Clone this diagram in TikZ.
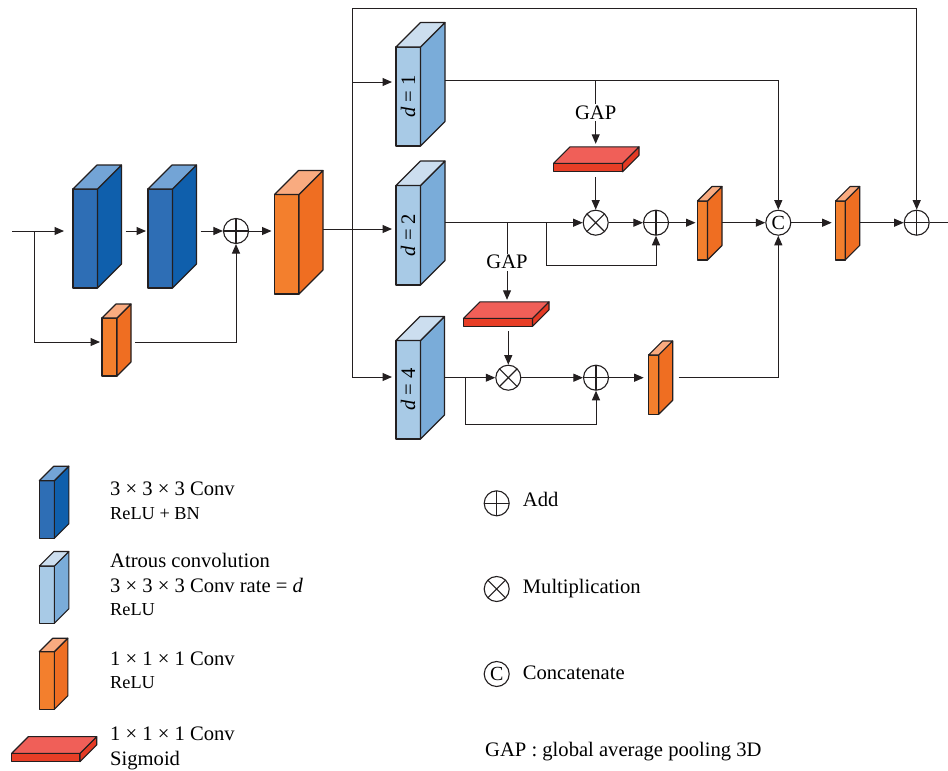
\documentclass[tikz,border=0pt]{standalone}
\usepackage{fontspec}
\setmainfont{Liberation Serif}
\usetikzlibrary{arrows.meta,calc}
\definecolor{linecol}{RGB}{35,31,32}
\definecolor{bluefront}{RGB}{46,110,181}
\definecolor{blueside}{RGB}{15,95,172}
\definecolor{bluetop}{RGB}{115,164,214}
\definecolor{lbfront}{RGB}{168,202,230}
\definecolor{lbside}{RGB}{122,172,217}
\definecolor{lbtop}{RGB}{204,222,239}
\definecolor{orfront}{RGB}{243,127,45}
\definecolor{orside}{RGB}{239,110,34}
\definecolor{ortop}{RGB}{249,171,128}
\definecolor{redfront}{RGB}{232,62,38}
\definecolor{redside}{RGB}{228,58,36}
\definecolor{redtop}{RGB}{240,95,88}
\newcommand{\mainsz}{\fontsize{20.6}{24}\selectfont}
\newcommand{\smallsz}{\fontsize{18.3}{21}\selectfont}
\tikzset{
  ln/.style={line width=1pt, draw=linecol},
  arr/.style={ln, -{Triangle[length=9.5pt,width=8pt]}},
  blockline/.style={draw=linecol, line width=1.1pt, line join=round},
  op/.style={circle, draw=linecol, line width=1.1pt, minimum size=25pt, inner sep=0pt, fill=white},
  oplus/.style={op, path picture={\draw[line width=1.1pt, linecol] (path picture bounding box.north) -- (path picture bounding box.south) (path picture bounding box.west) -- (path picture bounding box.east);}},
  otimes/.style={op, path picture={\draw[line width=1.1pt, linecol] (path picture bounding box.north west) -- (path picture bounding box.south east) (path picture bounding box.north east) -- (path picture bounding box.south west);}},
  ocat/.style={op, font=\fontsize{20}{20}\selectfont},
  gaplbl/.style={fill=white, inner sep=1.5pt, font=\mainsz},
  legtxt/.style={anchor=base west, inner sep=0pt, font=\mainsz},
  legsmall/.style={anchor=base west, inner sep=0pt, font=\smallsz},
  dlbl/.style={rotate=90, inner sep=0pt, font=\mainsz}
}
% name, x, y (front top-left), w, h, depth, front, side, top
\newcommand{\blk}[9]{%
  \node[inner sep=0pt, outer sep=0pt, minimum width={(#4+#6)*1pt}, minimum height={(#5+#6)*1pt}, anchor=north west] (#1) at (#2,#3-#6) {};
  \filldraw[blockline, fill=#7] (#2,#3) rectangle ++(#4,#5);
  \filldraw[blockline, fill=#8] (#2+#4,#3) -- ++(#6,-#6) -- ++(0,#5) -- ++(-#6,#6) -- cycle;
  \filldraw[blockline, fill=#9] (#2,#3) -- ++(#6,-#6) -- ++(#4,0) -- ++(-#6,#6) -- cycle;
}
\begin{document}
\begin{tikzpicture}[x=1pt,y=-1pt]
\useasboundingbox (0,0) rectangle (948,771);
\fill[white] (0,0) rectangle (948,771);

% ---------- blocks ----------
\blk{b1}{73}{189}{24.5}{99}{24}{bluefront}{blueside}{bluetop}
\blk{b2}{148}{189}{24.5}{99}{24}{bluefront}{blueside}{bluetop}
\blk{o1}{274.5}{194.5}{24.5}{99.5}{24}{orfront}{orside}{ortop}
\blk{os}{102}{318}{15}{58}{14}{orfront}{orside}{ortop}
\blk{d1}{396}{47}{24.5}{99}{24.5}{lbfront}{lbside}{lbtop}
\blk{d2}{396}{185.5}{24.5}{99.5}{24.5}{lbfront}{lbside}{lbtop}
\blk{d4}{396}{340.5}{24.5}{98.5}{24}{lbfront}{lbside}{lbtop}
\blk{r1}{553.5}{163.3}{69}{8.5}{16.5}{redfront}{redside}{redtop}
\blk{r2}{463.5}{318.3}{69}{8}{16.5}{redfront}{redside}{redtop}
\blk{o2}{697.5}{201}{10}{59}{14.5}{orfront}{orside}{ortop}
\blk{o3}{648.7}{355}{10}{59.3}{14}{orfront}{orside}{ortop}
\blk{o4}{835.7}{201}{9.5}{59}{14.5}{orfront}{orside}{ortop}

\node[dlbl] (t1) at (408.2,96.5) {\textit{d} = 1};
\node[dlbl] (t2) at (408.2,235.2) {\textit{d} = 2};
\node[dlbl] (t4) at (408.2,389.7) {\textit{d} = 4};

% ---------- operators ----------
\node[oplus] (add1) at (236,231) {};
\node[otimes] (mul1) at (595.7,222.7) {};
\node[oplus] (add2) at (656,222.7) {};
\node[otimes] (mul2) at (508.3,377.7) {};
\node[oplus] (add3) at (596,377.7) {};
\node[ocat] (cat) at (778.3,222.7) {C};
\node[oplus] (add4) at (916.7,222.7) {};

% ---------- junction coordinates ----------
\coordinate (in) at (12,231);
\coordinate (br0) at (34,231);
\coordinate (br1) at (34,342);
\coordinate (jm) at (352,229);
\coordinate (j1) at (352,82);
\coordinate (j4) at (352,377);
\coordinate (vtop) at (352,8);
\coordinate (g1) at (595.7,80.7);
\coordinate (g2) at (507,222.7);
\coordinate (s2) at (546.7,265);
\coordinate (s4) at (465,424);
\coordinate (out) at (948,222.7);

% ---------- left part ----------
\draw[arr, shorten >=9pt] (in) -- (in -| b1.west);
\draw[arr, shorten <=4pt, shorten >=2pt] (b1.east |- add1) -- (add1 -| b2.west);
\draw[arr, shorten <=4pt] (b2.east |- add1) -- (add1);
\draw[arr, shorten >=3pt] (add1) -- (add1 -| o1.west);
\draw[arr, shorten >=2pt] (br0) -- (br1) -- (br1 -| os.west);
\draw[arr, shorten <=4pt] (br1 -| os.east) -| (add1.south);

% ---------- distribution ----------
\draw[ln] (jm -| o1.east) -- (jm);
\draw[ln] (j4) -- (vtop);
\draw[arr] (vtop) -| (add4.north);
\draw[arr, shorten >=4pt] (j1) -- (j1 -| d1.west);
\draw[arr, shorten >=4pt] (jm) -- (jm -| d2.west);
\draw[arr, shorten >=4pt] (j4) -- (j4 -| d4.west);

% ---------- d = 1 branch ----------
\draw[arr] (g1 -| d1.east) -| (cat.north);
\draw[arr, shorten >=3pt] (g1) -- node[gaplbl, pos=0.48] (gap1) {GAP} (g1 |- r1.north);
\draw[arr, shorten <=5pt] (r1.south -| mul1) -- (mul1.north);

% ---------- d = 2 branch ----------
\draw[arr] (mul1 -| d2.east) -- (mul1.west);
\draw[arr] (mul1) -- (add2);
\draw[arr] (s2 |- mul1) -- (s2) -| (add2.south);
\draw[arr, shorten >=2pt] (g2) -- node[gaplbl, pos=0.5] (gap2) {GAP} (g2 |- r2.north);
\draw[arr, shorten <=5pt] (r2.south -| mul2) -- (mul2.north);
\draw[arr, shorten >=2pt] (add2) -- (add2 -| o2.west);
\draw[arr] (o2.east |- cat) -- (cat);
\draw[arr, shorten >=4pt] (cat) -- (cat -| o4.west);
\draw[arr] (o4.east |- add4) -- (add4);
\draw[ln] (add4) -- (out);

% ---------- d = 4 branch ----------
\draw[arr] (mul2 -| d4.east) -- (mul2);
\draw[arr] (mul2) -- (add3);
\draw[arr] (s4 |- mul2) -- (s4) -| (add3.south);
\draw[arr, shorten >=5pt] (add3) -- (add3 -| o3.west);
\draw[arr, shorten <=6pt] (add3 -| o3.east) -| (cat.south);

% ---------- legend ----------
\blk{lg1}{39.3}{480.7}{15}{57.6}{14.5}{bluefront}{blueside}{bluetop}
\blk{lg2}{39.3}{566}{15}{57.3}{14.5}{lbfront}{lbside}{lbtop}
\blk{lg3}{39.3}{651.7}{15}{57.6}{13.5}{orfront}{orside}{ortop}
\blk{lg4}{11.7}{753.3}{68.3}{8.4}{16.7}{redfront}{redside}{redtop}

\node[legtxt] (lt1) at (110,495) {3 × 3 × 3 Conv};
\node[legsmall] (lt1b) at (110,519.3) {ReLU + BN};
\node[legtxt] (lt2) at (110,567.3) {Atrous convolution};
\node[legtxt] (lt2b) at (110,592.7) {3 × 3 × 3 Conv rate = \textit{d}};
\node[legsmall] (lt2c) at (110,615) {ReLU};
\node[legtxt] (lt3) at (110,665) {1 × 1 × 1 Conv};
\node[legsmall] (lt3b) at (110,688.7) {ReLU};
\node[legtxt] (lt4) at (110,740) {1 × 1 × 1 Conv};
\node[legtxt] (lt4b) at (110,765) {Sigmoid};

\node[oplus] (lgadd) at (496.7,503.3) {};
\node[otimes] (lgmul) at (496.7,589) {};
\node[ocat] (lgcat) at (496.7,674) {C};
\node[legtxt] (la) at (522.7,506.7) {Add};
\node[legtxt] (lm) at (522.7,593.3) {Multiplication};
\node[legtxt] (lc) at (522.7,679.3) {Concatenate};
\node[legtxt] (lg) at (485,756) {GAP : global average pooling 3D};
\end{tikzpicture}
\end{document}
